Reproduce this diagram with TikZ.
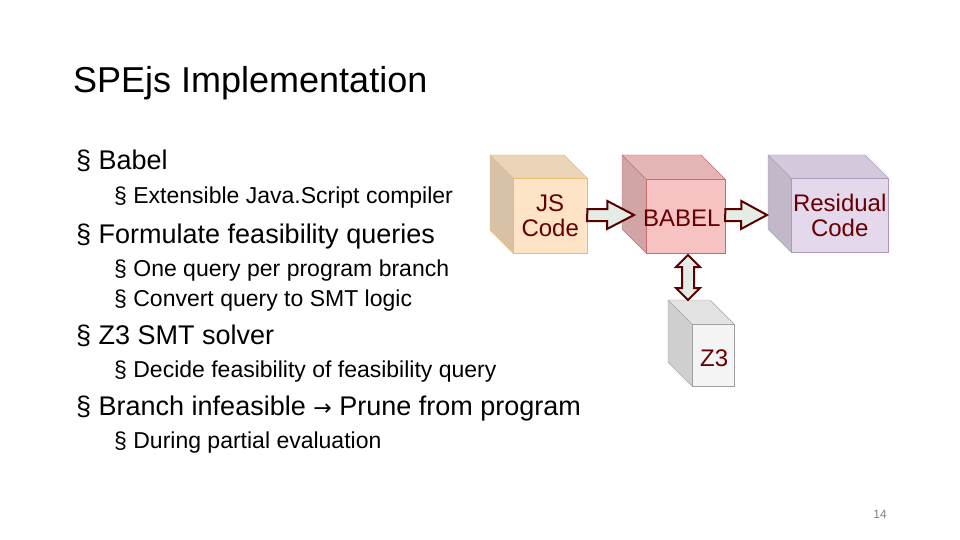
\documentclass[tikz,border=0pt]{standalone}
\usepackage{fontspec}
\setmainfont{Liberation Sans}
\newfontfamily\dejavu{DejaVu Sans}
\begin{document}
\begin{tikzpicture}[x=1pt,y=-1pt,
  lone/.style={anchor=base west,font=\fontsize{27}{30}\selectfont,inner sep=0},
  ltwo/.style={anchor=base west,font=\fontsize{23}{26}\selectfont,inner sep=0},
  fat/.style={draw=black!50!red!70!black,line width=2pt,fill=green!12!gray!18,line join=miter},
  ctext/.style={text=red!40!black,font=\fontsize{24}{25}\selectfont,align=center}]
\useasboundingbox (0,0) rectangle (960,540);
\fill[white] (0,0) rectangle (960,540);
\newcommand\cube[8]{% x0 y0 w h d fill stroke name
  \fill[#6!85!black] (#1,#2)--++(#5,#5)--++(0,#4)--++(-#5,-#5)--cycle;
  \fill[#6!93!black] (#1,#2)--++(#3,0)--++(#5,#5)--++(-#3,0)--cycle;
  \draw[#7] (#1,#2)--++(#3,0)--++(#5,#5) (#1,#2)--++(#5,#5) (#1,#2)--++(0,#4)--++(#5,#5);
  \node[draw=#7,fill=#6,minimum width=#3,minimum height=#4,inner sep=0,anchor=north west] (#8) at (#1+#5,#2+#5) {};
}
\definecolor{jsf}{HTML}{FDE4C6}\definecolor{jss}{HTML}{E6BE6E}
\definecolor{bbf}{HTML}{F6C2C2}\definecolor{bbs}{HTML}{C86A6A}
\definecolor{rsf}{HTML}{E4D8EC}\definecolor{rss}{HTML}{AE98BE}
\definecolor{zf}{HTML}{F4F4F4}\definecolor{zs}{HTML}{A0A0A0}
\cube{490}{155}{74}{75}{23}{jsf}{jss}{js}
\cube{622}{155}{79}{74}{24}{bbf}{bbs}{bb}
\cube{768}{155}{97}{74}{23}{rsf}{rss}{rs}
\cube{668}{300}{42}{62}{24}{zf}{zs}{z}
\node[ctext] (jst) at ([xshift=0pt]js.center) {JS\\Code};
\node[ctext] (bbt) at ([xshift=-4pt,yshift=-2pt]bb.center) {BABEL};
\node[ctext] (rst) at (rs.center) {Residual\\Code};
\node[ctext] (zt) at ([xshift=1pt,yshift=-3pt]z.center) {Z3};
% fat arrows
\coordinate (a1) at (js.east|-0,215);
\draw[fat] (a1) ++(0,-6) -- ++(20,0) -- ++(0,-8) -- (634,215) -- (607,229) -- ++(0,-8) -- ++(-20,0) -- cycle;
\coordinate (a2) at (bb.east|-0,215);
\draw[fat] (a2) ++(0,-6) -- ++(16,0) -- ++(0,-8) -- (767,215) -- (741,229) -- ++(0,-8) -- ++(-16,0) -- cycle;
\draw[fat] (682,267) -- (676,267) -- (688,255) -- (700,267) -- (694,267) -- (694,288) -- (700,288) -- (688,300) -- (676,288) -- (682,288) -- cycle;
% text
\node[anchor=base west,inner sep=0,font=\fontsize{36}{40}\selectfont] (title) at (73,93) {SPEjs Implementation};
\node[lone] (b1) at (76,170) {§ Babel};
\node[ltwo] (b11) at (114,204) {§ Extensible Java.Script compiler};
\node[lone] (b2) at (76,243) {§ Formulate feasibility queries};
\node[ltwo] (b21) at (114,276) {§ One query per program branch};
\node[ltwo] (b22) at (114,306) {§ Convert query to SMT logic};
\node[lone] (b3) at (76,344) {§ Z3 SMT solver};
\node[ltwo] (b31) at (114,377) {§ Decide feasibility of feasibility query};
\node[lone] (b4) at (76,415) {§ Branch infeasible {\dejavu\fontsize{22}{24}\selectfont →} Prune from program};
\node[ltwo] (b41) at (114,448) {§ During partial evaluation};
\node[anchor=base,inner sep=0,font=\fontsize{12}{14}\selectfont,text=gray] (pg) at (880,518) {14};
\end{tikzpicture}
\end{document}
